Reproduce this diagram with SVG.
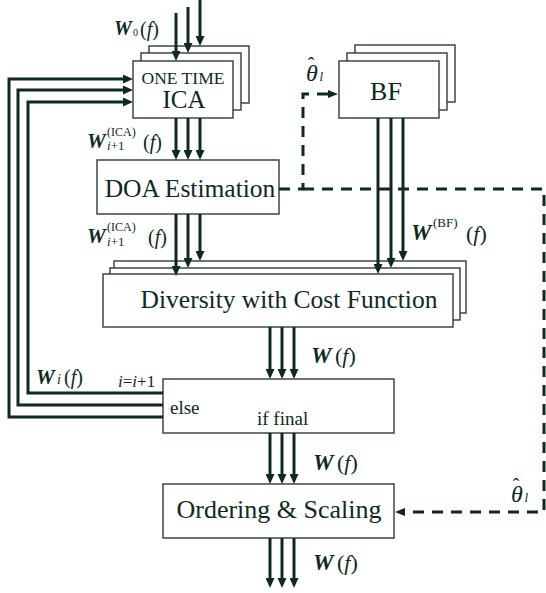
<svg xmlns="http://www.w3.org/2000/svg" width="546" height="593" viewBox="0 0 546 593">
<style>
text{font-family:"Liberation Serif","Times New Roman",serif;fill:#0c2a20}
.box{fill:#fff;stroke:#2f3a35;stroke-width:1.4}
.ar{fill:none;stroke:#0c2a20;stroke-width:3;marker-end:url(#ah)}
.fb{fill:none;stroke:#0c2a20;stroke-width:3;stroke-linejoin:miter;marker-end:url(#ah)}
.da{fill:none;stroke:#0c2a20;stroke-width:3;stroke-dasharray:11 8}
.bi{font-weight:bold;font-style:italic}
.it{font-style:italic}
.c{text-anchor:middle}
</style>
<defs>
<marker id="ah" markerUnits="userSpaceOnUse" viewBox="0 0 10 9" markerWidth="10" markerHeight="9" refX="3" refY="4.5" orient="auto">
<path d="M0,0 L10,4.5 L0,9 z" fill="#0c2a20"/>
</marker>
<marker id="dh" markerUnits="userSpaceOnUse" viewBox="0 0 10 8" markerWidth="10" markerHeight="8" refX="3" refY="4" orient="auto">
<path d="M0,0 L10,4 L0,8 z" fill="#0c2a20"/>
</marker>
</defs>

<g id="ica">
<rect class="box" x="149" y="46" width="100" height="57"/>
<rect class="box" x="141" y="53" width="100" height="57"/>
<rect class="box" x="133" y="61" width="100" height="57"/>
<text class="c" x="183" y="84" font-size="17.5">ONE TIME</text>
<text class="c" x="184" y="108" font-size="25">ICA</text>
</g>

<g id="bf">
<rect class="box" x="355" y="45" width="100" height="57"/>
<rect class="box" x="347" y="53" width="100" height="57"/>
<rect class="box" x="339" y="61" width="100" height="57"/>
<text class="c" x="386" y="100" font-size="26">BF</text>
</g>

<g id="doa">
<rect class="box" x="97" y="160" width="182" height="54"/>
<text class="c" x="190" y="197" font-size="25.5">DOA Estimation</text>
</g>

<g id="diversity">
<rect class="box" x="114" y="261" width="352" height="52"/>
<rect class="box" x="110" y="268" width="350" height="52"/>
<rect class="box" x="103" y="274" width="350" height="53"/>
<text class="c" x="289" y="308" font-size="25.5">Diversity with Cost Function</text>
</g>

<g id="decision">
<rect class="box" x="163" y="379" width="231" height="54"/>
<text x="170" y="414" font-size="19">else</text>
<text x="257" y="425" font-size="19">if final</text>
</g>

<g id="ordering">
<rect class="box" x="163" y="484" width="231" height="54"/>
<text class="c" x="279" y="518" font-size="26">Ordering &amp; Scaling</text>
</g>

<g id="connectors">
<path class="ar" d="M176,13 V54"/>
<path class="ar" d="M188,7 V46"/>
<path class="ar" d="M200,0 V39"/>
<path class="ar" d="M176,118 V153"/>
<path class="ar" d="M188,118 V153"/>
<path class="ar" d="M200,118 V153"/>
<path class="ar" d="M176,214 V269"/>
<path class="ar" d="M188,214 V261"/>
<path class="ar" d="M200,214 V254"/>
<path class="ar" d="M378,118 V267"/>
<path class="ar" d="M391,118 V261"/>
<path class="ar" d="M403,118 V254"/>
<path class="ar" d="M270,327 V372"/>
<path class="ar" d="M282,327 V372"/>
<path class="ar" d="M294,327 V372"/>
<path class="ar" d="M270,433 V477"/>
<path class="ar" d="M282,433 V477"/>
<path class="ar" d="M294,433 V477"/>
<path class="ar" d="M270,538 V581"/>
<path class="ar" d="M282,538 V581"/>
<path class="ar" d="M294,538 V581"/>
<path class="fb" d="M163,417 H9 V79 H126"/>
<path class="fb" d="M163,405 H18 V90 H126"/>
<path class="fb" d="M163,393 H28 V102 H126"/>
<path class="da" d="M279,189 H303 V94 H331" marker-end="url(#dh)"/>
<path class="da" d="M303,189 H544 V512 H402" marker-end="url(#dh)"/>
</g>

<g id="labels">
<text x="114" y="35" font-size="20" class="bi">W</text>
<text x="133" y="36" font-size="10">0</text>
<text x="140" y="36" font-size="20">(<tspan class="it">f</tspan>)</text>

<text x="87" y="148" font-size="21" class="bi">W</text>
<text x="107" y="136" font-size="12">(ICA)</text>
<text x="107" y="150" font-size="13"><tspan class="it">i</tspan>+1</text>
<text x="143" y="149" font-size="20">(<tspan class="it">f</tspan>)</text>

<text x="87" y="243" font-size="21" class="bi">W</text>
<text x="107" y="231" font-size="12">(ICA)</text>
<text x="107" y="246" font-size="13"><tspan class="it">i</tspan>+1</text>
<text x="148" y="244" font-size="20">(<tspan class="it">f</tspan>)</text>

<text x="411" y="240" font-size="23" class="bi">W</text>
<text x="433" y="227" font-size="13">(BF)</text>
<text x="466" y="241" font-size="22">(<tspan class="it">f</tspan>)</text>

<text x="311" y="363" font-size="23" class="bi">W</text>
<text x="335" y="363" font-size="22">(<tspan class="it">f</tspan>)</text>
<text x="313" y="470" font-size="23" class="bi">W</text>
<text x="337" y="470" font-size="22">(<tspan class="it">f</tspan>)</text>
<text x="313" y="570" font-size="23" class="bi">W</text>
<text x="337" y="570" font-size="22">(<tspan class="it">f</tspan>)</text>

<text x="36" y="384" font-size="21" class="bi">W</text>
<text x="57" y="384" font-size="14" class="it">i</text>
<text x="64" y="384" font-size="20">(<tspan class="it">f</tspan>)</text>
<text x="118" y="387" font-size="17"><tspan class="it">i</tspan>=<tspan class="it">i</tspan>+1</text>

<text x="306" y="81" font-size="24" class="it">θ<tspan font-style="normal" font-size="20" dx="-10" dy="-9">ˆ</tspan><tspan font-size="13" dx="5" dy="9">l</tspan></text>
<text x="511" y="502" font-size="24" class="it">θ<tspan font-style="normal" font-size="20" dx="-10" dy="-9">ˆ</tspan><tspan font-size="13" dx="5" dy="9">l</tspan></text>
</g>
</svg>
